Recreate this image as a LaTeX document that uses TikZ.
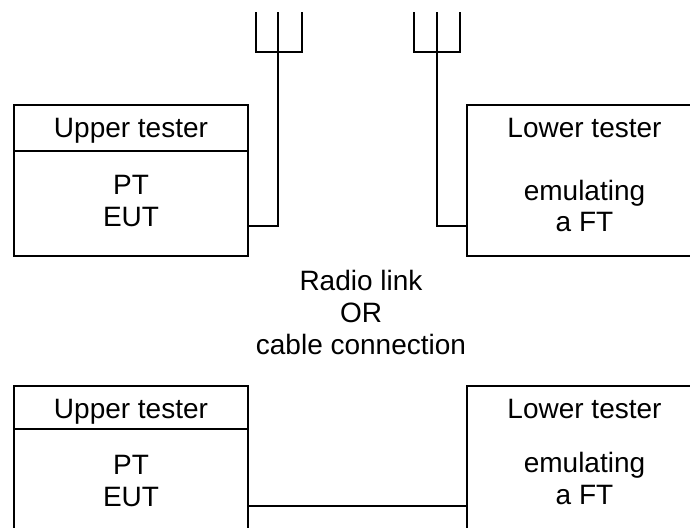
\documentclass[tikz,border=0pt]{standalone}
\usepackage{fontspec}
\setmainfont{Liberation Sans}
\usetikzlibrary{fit}
\tikzset{
  txt/.style={font=\fontsize{21}{24}\selectfont, align=center, anchor=base, inner sep=0pt},
  frame/.style={draw=none, inner sep=0pt},
}
\begin{document}
\begin{tikzpicture}[x=0.75pt,y=-0.75pt, line width=1.1pt, line cap=rect]
\useasboundingbox (0,0) rectangle (690,528);
\clip (0,0) rectangle (690,528);

% ---------- upper scenario ----------
\node[frame, fit={(14,105)(248,256)}] (ut1) {};
\draw (14,105) rectangle (248,256);
\draw (14,151) -- (248,151);
\node[frame, fit={(467,105)(720,256)}] (lt1) {};
\draw (720,105) -- (467,105) -- (467,256) -- (720,256);

\node[txt] (ut1h) at (131,138) {Upper tester};
\node[txt] (ut1b) at (131,226) {PT\\EUT};
\node[txt] (lt1h) at (584.5,138) {Lower tester};
\node[txt] (lt1b) at (584.5,232) {emulating\\a FT};

% antennas
\coordinate (a1) at (278,52);
\coordinate (a1c) at (248,226);
\draw (256,13) -- (256,52) -- (302,52) -- (302,13);
\draw (278,13) -- (a1);
\draw (a1) |- (a1c);

\coordinate (a2) at (437,52);
\coordinate (a2c) at (467,226);
\draw (414,13) -- (414,52) -- (460,52) -- (460,13);
\draw (437,13) -- (a2);
\draw (a2) |- (a2c);

% ---------- middle text ----------
\node[txt] (mid) at (361,354) {Radio link\\OR\\cable connection};

% ---------- lower scenario ----------
\node[frame, fit={(14,386)(248,560)}] (ut2) {};
\draw (14,560) -- (14,386) -- (248,386) -- (248,560);
\draw (14,429) -- (248,429);
\node[frame, fit={(467,386)(720,560)}] (lt2) {};
\draw (720,386) -- (467,386) -- (467,560);

\node[txt] (ut2h) at (131,418) {Upper tester};
\node[txt] (ut2b) at (131,506) {PT\\EUT};
\node[txt] (lt2h) at (584.5,418) {Lower tester};
\node[txt] (lt2b) at (584.5,504) {emulating\\a FT};

\coordinate (c1) at (248,506);
\coordinate (c2) at (467,506);
\draw (c1) -- (c2);
\end{tikzpicture}
\end{document}
